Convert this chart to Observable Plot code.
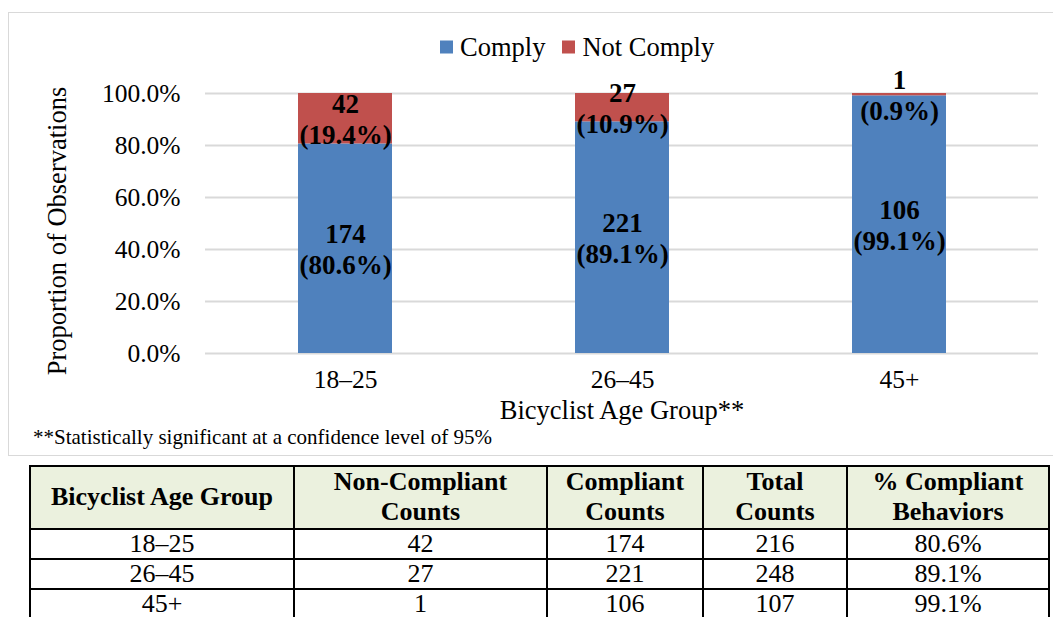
<!DOCTYPE html>
<html><head><meta charset="utf-8">
<script src="https://cdn.jsdelivr.net/npm/d3@7"></script>
<script src="https://cdn.jsdelivr.net/npm/@observablehq/plot@0.6"></script>
<style>
html,body{margin:0;padding:0;background:#fff;overflow:hidden;width:1053px;height:617px;font-family:"Liberation Serif","Tinos","Times New Roman","Nimbus Roman","DejaVu Serif",serif;color:#000;}
#box{position:absolute;left:8px;top:12px;width:1060px;height:444px;border:1px solid #d9d9d9;box-sizing:border-box;}
#chart{position:absolute;left:0;top:0;}
.legend{position:absolute;top:47px;left:440px;transform:translateY(-50%);font-size:26.5px;white-space:nowrap;display:flex;align-items:center;}
.legend .sw{display:inline-block;width:13px;height:13px;margin-right:7px;}
.legend .item{display:flex;align-items:center;margin-right:17px;}
#ylab{position:absolute;left:57px;top:231px;transform:translate(-50%,-50%) rotate(-90deg);font-size:26.5px;white-space:nowrap;}
#xlab{position:absolute;left:622px;top:410px;transform:translate(-50%,-50%);font-size:26.5px;white-space:nowrap;}
#note{position:absolute;left:33px;top:437px;transform:translateY(-50%);font-size:21px;white-space:nowrap;}
table{position:absolute;left:29px;top:465px;border-collapse:collapse;font-size:26px;table-layout:fixed;}
td,th{border:2.5px solid #000;text-align:center;padding:0;line-height:1.17;}
th{background:#ebf1de;font-weight:bold;height:60px;}
td{height:28px;line-height:1.05;}
</style>
</head><body>
<div id="box"></div>
<div id="chart"></div>
<div class="legend" id="legend"></div>
<div id="ylab">Proportion of Observations</div>
<div id="xlab">Bicyclist Age Group**</div>
<div id="note">**Statistically significant at a confidence level of 95%</div>
<table id="tbl"></table>
<script>
const ageGroups = ["18–25", "26–45", "45+"];
const seriesNames = ["Comply", "Not Comply"];
const seriesColors = ["#4f81bd", "#c0504d"];
const complyCounts = [174, 221, 106];
const notComplyCounts = [42, 27, 1];
const complyPct = [80.6, 89.1, 99.1];
const notComplyPct = [19.4, 10.9, 0.9];
const totalCounts = [216, 248, 107];
const yTicks = [0, 20, 40, 60, 80, 100];
const tableHeaders = ["Bicyclist Age Group", "Non-Compliant<br>Counts", "Compliant<br>Counts", "Total<br>Counts", "% Compliant<br>Behaviors"];
const colWidths = [264, 253, 156, 144, 202];

const FONT = "'Liberation Serif', 'Tinos', 'Times New Roman', 'Nimbus Roman', 'DejaVu Serif', serif";

const rows = [];
ageGroups.forEach((g, i) => {
  rows.push({group: g, series: "Comply", pct: complyPct[i], count: complyCounts[i]});
  rows.push({group: g, series: "Not Comply", pct: notComplyPct[i], count: notComplyCounts[i]});
});

const chart = Plot.plot({
  width: 1053,
  height: 420,
  marginLeft: 205,
  marginRight: 15,
  marginTop: 93,
  marginBottom: 67,
  style: {fontFamily: FONT, fontSize: "25.5px", color: "#000", background: "transparent", overflow: "visible"},
  x: {domain: ageGroups, paddingInner: 0.662, paddingOuter: 0.33, label: null},
  y: {domain: [0, 100], label: null},
  color: {domain: seriesNames, range: seriesColors},
  marks: [
    Plot.gridY(yTicks, {stroke: "#d9d9d9", strokeOpacity: 1, strokeWidth: 2}),
    Plot.barY(rows, Plot.stackY({x: "group", y: "pct", fill: "series", z: "series", order: seriesNames})),
    Plot.text(rows, Plot.stackY({x: "group", y: "pct", z: "series", order: seriesNames,
      text: d => `${d.count}\n(${d.pct.toFixed(1)}%)`, fontWeight: "bold", fontSize: 27, lineHeight: 1.13, fill: "#000"})),
    Plot.axisY(yTicks, {tickSize: 0, tickPadding: 25, tickFormat: d => d.toFixed(1) + "%", label: null, fontSize: 25.5}),
    Plot.axisX({tickSize: 0, tickPadding: 16, label: null, fontSize: 25.5})
  ]
});
document.getElementById("chart").appendChild(chart);

const legend = document.getElementById("legend");
seriesNames.forEach((s, i) => {
  const it = document.createElement("span");
  it.className = "item";
  it.innerHTML = `<span class="sw" style="background:${seriesColors[i]}"></span>${s}`;
  legend.appendChild(it);
});

const tbl = document.getElementById("tbl");
let html = "<colgroup>" + colWidths.map(w => `<col style="width:${w}px">`).join("") + "</colgroup>";
html += "<tr>" + tableHeaders.map(h => `<th>${h}</th>`).join("") + "</tr>";
ageGroups.forEach((g, i) => {
  html += `<tr><td>${g}</td><td>${notComplyCounts[i]}</td><td>${complyCounts[i]}</td><td>${totalCounts[i]}</td><td>${complyPct[i].toFixed(1)}%</td></tr>`;
});
tbl.innerHTML = html;
</script>
</body></html>
